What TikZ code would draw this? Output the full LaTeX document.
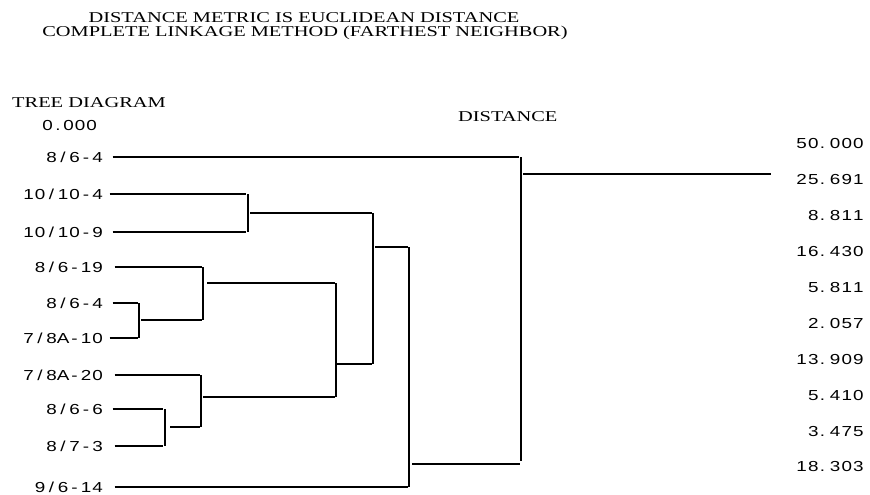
\documentclass[tikz,border=0pt]{standalone}
\usepackage{fontspec}
\setmainfont{Liberation Serif}
\newfontfamily\lblfont{Liberation Sans}
\makeatletter
% left labels: glyphs centred in fixed cells, stretched horizontally
\def\mono#1{\monoloop#1\relax}
\def\monoloop#1{\ifx#1\relax\else
  \if.#1\makebox[9.4pt]{\scalebox{1.3}[1]{#1}}\else\makebox[11.5pt]{\scalebox{1.3}[1]{#1}}\fi
  \expandafter\monoloop\fi}
% right values: period set to the left of a narrower cell
\def\monor#1{\monorloop#1\relax}
\def\monorloop#1{\ifx#1\relax\else
  \if.#1\makebox[10pt][l]{\kern0.6pt\scalebox{1.3}[1]{#1}}\else\makebox[11.7pt]{\scalebox{1.3}[1]{#1}}\fi
  \expandafter\monorloop\fi}
\makeatother
\begin{document}
\begin{tikzpicture}[x=1pt,y=-1pt,
  lbl/.style={inner sep=0pt,anchor=east,font=\lblfont\fontsize{14.5}{14.5}\selectfont},
  ttl/.style={inner sep=0pt,font=\fontsize{15}{15}\selectfont},
  br/.style={line width=1.7pt}]
\useasboundingbox (0,0) rectangle (870,495);
% titles
\node[ttl] (t1) at (304,18) {\scalebox{1.36}[1]{DISTANCE METRIC IS EUCLIDEAN DISTANCE}};
\node[ttl] (t2) at (305,33) {\scalebox{1.36}[1]{COMPLETE LINKAGE METHOD (FARTHEST NEIGHBOR)}};
\node[ttl,anchor=west] (t3) at (12,103) {\scalebox{1.36}[1]{TREE DIAGRAM}};
\node[ttl,anchor=west] (t4) at (458,117) {\scalebox{1.36}[1]{DISTANCE}};
% leaf labels
\node[lbl] (z0) at (97.5,126) {\mono{0.000}};
\node[lbl] (l1) at (103.5,157) {\mono{8/6-4}};
\node[lbl] (l2) at (103.5,194) {\mono{10/10-4}};
\node[lbl] (l3) at (103.5,232) {\mono{10/10-9}};
\node[lbl] (l4) at (103.5,267) {\mono{8/6-19}};
\node[lbl] (l5) at (103.5,303) {\mono{8/6-4}};
\node[lbl] (l6) at (103.5,338) {\mono{7/8A-10}};
\node[lbl] (l7) at (103.5,375) {\mono{7/8A-20}};
\node[lbl] (l8) at (103.5,409) {\mono{8/6-6}};
\node[lbl] (l9) at (103.5,446) {\mono{8/7-3}};
\node[lbl] (l10) at (103.5,487) {\mono{9/6-14}};
% distance labels
\node[lbl] (d1) at (864.5,144) {\monor{50.000}};
\node[lbl] (d2) at (864.5,180) {\monor{25.691}};
\node[lbl] (d3) at (864.5,216) {\monor{8.811}};
\node[lbl] (d4) at (864.5,252) {\monor{16.430}};
\node[lbl] (d5) at (864.5,288) {\monor{5.811}};
\node[lbl] (d6) at (864.5,323.5) {\monor{2.057}};
\node[lbl] (d7) at (864.5,359.5) {\monor{13.909}};
\node[lbl] (d8) at (864.5,395.5) {\monor{5.410}};
\node[lbl] (d9) at (864.5,431.5) {\monor{3.475}};
\node[lbl] (d10) at (864.5,467) {\monor{18.303}};
% leaf line ends
\coordinate (e1) at (519,157);
\coordinate (e2) at (246,194);
\coordinate (e3) at (246,232);
\coordinate (e4) at (202,267);
\coordinate (e5) at (138,303);
\coordinate (e6) at (138,338);
\coordinate (e7) at (200,375);
\coordinate (e8) at (163,409);
\coordinate (e9) at (163,446);
\coordinate (e10) at (408,487);
% leaf lines
\foreach \i/\g in {1/9,2/6,3/9,4/11,5/9,6/6,7/11,8/9,9/11,10/11}
  \draw[br] ([xshift=\g pt]l\i.east) -- (e\i);
% cluster (8/6-4, 7/8A-10)
\coordinate (v1a) at (139,303); \coordinate (v1b) at (139,338);
\draw[br] (v1a) -- (v1b);
\coordinate (o1a) at (141,320); \coordinate (o1b) at (202,320);
\draw[br] (o1a) -- (o1b);
% cluster with 8/6-19
\coordinate (v2a) at (203,267); \coordinate (v2b) at (203,320);
\draw[br] (v2a) -- (v2b);
\coordinate (o2a) at (207,283); \coordinate (o2b) at (335,283);
\draw[br] (o2a) -- (o2b);
% cluster (8/6-6, 8/7-3)
\coordinate (v3a) at (165,409); \coordinate (v3b) at (165,446);
\draw[br] (v3a) -- (v3b);
\coordinate (o3a) at (170,427); \coordinate (o3b) at (200,427);
\draw[br] (o3a) -- (o3b);
% cluster with 7/8A-20
\coordinate (v4a) at (201,375); \coordinate (v4b) at (201,427);
\draw[br] (v4a) -- (v4b);
\coordinate (o4a) at (203,397); \coordinate (o4b) at (335,397);
\draw[br] (o4a) -- (o4b);
% merge at 336
\coordinate (v5a) at (336,283); \coordinate (v5b) at (336,397);
\draw[br] (v5a) -- (v5b);
\coordinate (o5a) at (337,364); \coordinate (o5b) at (372,364);
\draw[br] (o5a) -- (o5b);
% cluster (10/10-4, 10/10-9)
\coordinate (v6a) at (248,194); \coordinate (v6b) at (248,232);
\draw[br] (v6a) -- (v6b);
\coordinate (o6a) at (250,213); \coordinate (o6b) at (372,213);
\draw[br] (o6a) -- (o6b);
% merge at 373
\coordinate (v7a) at (373,213); \coordinate (v7b) at (373,364);
\draw[br] (v7a) -- (v7b);
\coordinate (o7a) at (375,247); \coordinate (o7b) at (408,247);
\draw[br] (o7a) -- (o7b);
% merge at 409 with 9/6-14
\coordinate (v8a) at (409,247); \coordinate (v8b) at (409,487);
\draw[br] (v8a) -- (v8b);
\coordinate (o8a) at (412,464); \coordinate (o8b) at (520,464);
\draw[br] (o8a) -- (o8b);
% root
\coordinate (v9a) at (521,157); \coordinate (v9b) at (521,461);
\draw[br] (v9a) -- (v9b);
\coordinate (o9a) at (523,174); \coordinate (o9b) at (771,174);
\draw[br] (o9a) -- (o9b);
\end{tikzpicture}
\end{document}
